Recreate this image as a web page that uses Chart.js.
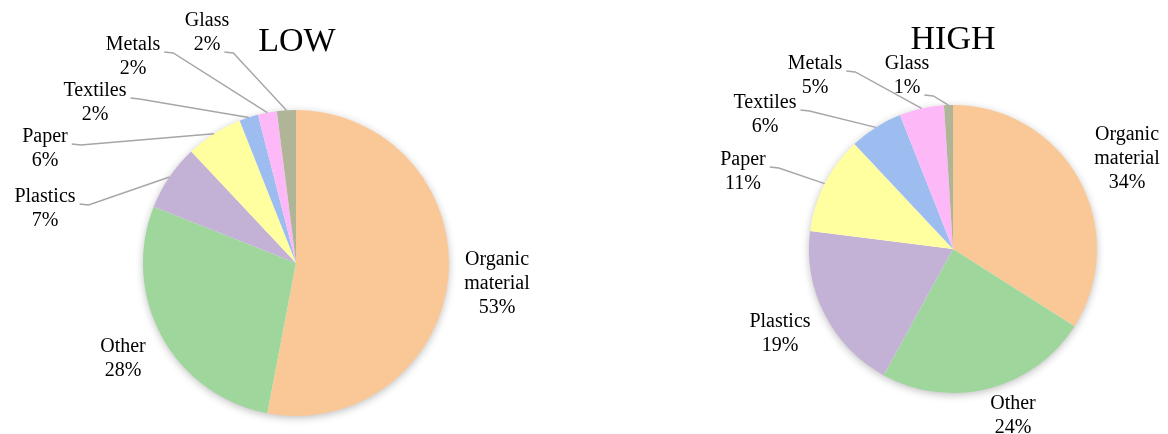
<!DOCTYPE html>
<html lang="en">
<head>
<meta charset="UTF-8">
<title>Waste composition - LOW / HIGH</title>
<script src="https://cdn.jsdelivr.net/npm/chart.js"></script>
<style>
  body { margin: 0; background: #fff; }
  .wrap { position: relative; width: 1168px; height: 434px; }
  .wrap canvas { position: absolute; left: 0; top: 0; }
</style>
</head>
<body>
<div class="wrap">
  <canvas id="lowChart" width="1168" height="434"></canvas>
  <canvas id="highChart" width="1168" height="434"></canvas>
</div>
<script>
  const categories = ['Organic material', 'Other', 'Plastics', 'Paper', 'Textiles', 'Metals', 'Glass'];
  const lowValues = [53, 28, 7, 6, 2, 2, 2];
  const highValues = [34, 24, 19, 11, 6, 5, 1];
  const sliceColors = ['#fac896', '#9ed69c', '#c3b1d6', '#ffffa0', '#9dbcf0', '#fdb8f8', '#afb596'];

  // label text lines for each category (percent gets added as the last line)
  const labelLines = [['Organic', 'material'], ['Other'], ['Plastics'], ['Paper'], ['Textiles'], ['Metals'], ['Glass']];

  // where each label sits, relative to the pie centre: first line centre (dx, dy),
  // lead = which line the leader line starts from (null = no leader)
  const lowLabelPos = [
    { dx: 201, dy: -3, lead: null },
    { dx: -173, dy: 84, lead: null },
    { dx: -251, dy: -66, lead: 0 },
    { dx: -251, dy: -126, lead: 0 },
    { dx: -201, dy: -172, lead: 0 },
    { dx: -163, dy: -218, lead: 0 },
    { dx: -89, dy: -242, lead: 1 }
  ];
  const highLabelPos = [
    { dx: 174, dy: -114, lead: null },
    { dx: 60, dy: 155, lead: null },
    { dx: -173, dy: 73, lead: null },
    { dx: -210, dy: -89, lead: 0 },
    { dx: -188, dy: -146, lead: 0 },
    { dx: -138, dy: -185, lead: 0 },
    { dx: -46, dy: -185, lead: 1 }
  ];

  const FONT = '"Liberation Serif", "Times New Roman", serif';
  const LINE_H = 24;

  // soft shadow under the whole pie
  const pieShadow = {
    id: 'pieShadow',
    beforeDatasetsDraw(chart) {
      const arc = chart.getDatasetMeta(0).data[0];
      if (!arc) return;
      const ctx = chart.ctx;
      ctx.save();
      ctx.shadowColor = 'rgba(0,0,0,0.28)';
      ctx.shadowBlur = 8;
      ctx.shadowOffsetY = 2;
      ctx.fillStyle = '#ffffff';
      ctx.beginPath();
      ctx.arc(arc.x, arc.y, arc.outerRadius - 0.5, 0, Math.PI * 2);
      ctx.fill();
      ctx.restore();
    }
  };

  // category + percent labels with leader lines, and the title above the pie
  const pieLabels = {
    id: 'pieLabels',
    afterDatasetsDraw(chart, args, opts) {
      const ctx = chart.ctx;
      const meta = chart.getDatasetMeta(0);
      const values = chart.data.datasets[0].data;
      const total = values.reduce((a, b) => a + b, 0);
      const cx = meta.data[0].x, cy = meta.data[0].y;

      ctx.save();
      ctx.font = '34px ' + FONT;
      ctx.fillStyle = '#000';
      ctx.textAlign = 'center';
      ctx.textBaseline = 'middle';
      ctx.fillText(opts.title, cx + opts.titleDx, cy + opts.titleDy);

      ctx.font = '20px ' + FONT;
      meta.data.forEach((arc, i) => {
        const pos = opts.positions[i];
        const lines = labelLines[i].concat([Math.round(values[i] / total * 100) + '%']);
        const lx = cx + pos.dx, ly = cy + pos.dy;

        if (pos.lead !== null) {
          const mid = (arc.startAngle + arc.endAngle) / 2;
          const ex = arc.x + Math.cos(mid) * arc.outerRadius;
          const ey = arc.y + Math.sin(mid) * arc.outerRadius;
          const w = ctx.measureText(lines[pos.lead]).width;
          const sx = lx + w / 2 + 4;
          const sy = ly + pos.lead * LINE_H + 7;
          ctx.strokeStyle = '#a6a6a6';
          ctx.lineWidth = 1.4;
          ctx.beginPath();
          ctx.moveTo(sx, sy);
          ctx.lineTo(sx + 9, sy + 1);
          ctx.lineTo(ex, ey);
          ctx.stroke();
        }

        ctx.fillStyle = '#000';
        lines.forEach((t, k) => ctx.fillText(t, lx, ly + k * LINE_H));
      });
      ctx.restore();
    }
  };

  function makePie(id, values, padding, title, titleDx, titleDy, positions) {
    return new Chart(document.getElementById(id), {
      type: 'pie',
      data: {
        labels: categories,
        datasets: [{
          data: values,
          backgroundColor: sliceColors,
          borderWidth: 0
        }]
      },
      options: {
        responsive: false,
        animation: false,
        events: [],
        layout: { padding: padding },
        plugins: {
          legend: { display: false },
          tooltip: { enabled: false },
          pieLabels: { title: title, titleDx: titleDx, titleDy: titleDy, positions: positions }
        }
      },
      plugins: [pieShadow, pieLabels]
    });
  }

  // LOW: centre (296, 263), radius 153
  makePie('lowChart', lowValues, { left: 143, top: 110, right: 719, bottom: 18 }, 'LOW', 1, -221, lowLabelPos);
  // HIGH: centre (953, 249), radius 144
  makePie('highChart', highValues, { left: 809, top: 105, right: 71, bottom: 41 }, 'HIGH', 0, -209, highLabelPos);
</script>
</body>
</html>
